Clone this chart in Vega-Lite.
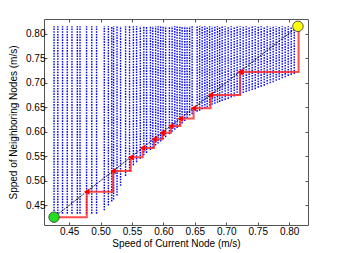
{
  "$schema": "https://vega.github.io/schema/vega-lite/v6.json",
  "width": 264,
  "height": 206,
  "autosize": "none",
  "padding": {"left": 44, "top": 19, "right": 33, "bottom": 28},
  "config": {
    "view": {"stroke": "#555555", "strokeWidth": 1},
    "axis": {
      "labelFont": "Liberation Sans",
      "titleFont": "Liberation Sans",
      "labelFontSize": 10,
      "titleFontSize": 10,
      "titleFontWeight": "normal",
      "labelColor": "#000000",
      "titleColor": "#000000",
      "domain": false,
      "grid": false,
      "tickColor": "#555555",
      "tickSize": -3,
      "labelFlush": false,
      "labelOverlap": false
    }
  },
  "datasets": {
    "cols": [
      {"x": 0.426, "y0": 0.433, "y1": 0.815},
      {"x": 0.432, "y0": 0.433, "y1": 0.815},
      {"x": 0.4395, "y0": 0.433, "y1": 0.815},
      {"x": 0.447, "y0": 0.433, "y1": 0.815},
      {"x": 0.4545, "y0": 0.433, "y1": 0.815},
      {"x": 0.463, "y0": 0.433, "y1": 0.815},
      {"x": 0.4673, "y0": 0.433, "y1": 0.815},
      {"x": 0.4777, "y0": 0.433, "y1": 0.815},
      {"x": 0.486, "y0": 0.433, "y1": 0.815},
      {"x": 0.4936, "y0": 0.433, "y1": 0.815},
      {"x": 0.5059, "y0": 0.44, "y1": 0.815},
      {"x": 0.5124, "y0": 0.45, "y1": 0.815},
      {"x": 0.5178, "y0": 0.458, "y1": 0.815},
      {"x": 0.5207, "y0": 0.462, "y1": 0.815},
      {"x": 0.5262, "y0": 0.47, "y1": 0.815},
      {"x": 0.5318, "y0": 0.49, "y1": 0.815},
      {"x": 0.5398, "y0": 0.51, "y1": 0.815},
      {"x": 0.5461, "y0": 0.52, "y1": 0.815},
      {"x": 0.5522, "y0": 0.532, "y1": 0.815},
      {"x": 0.5573, "y0": 0.538, "y1": 0.815},
      {"x": 0.5632, "y0": 0.545, "y1": 0.815},
      {"x": 0.5688, "y0": 0.552, "y1": 0.815},
      {"x": 0.5732, "y0": 0.557, "y1": 0.815},
      {"x": 0.5793, "y0": 0.563, "y1": 0.815},
      {"x": 0.5831, "y0": 0.567, "y1": 0.815},
      {"x": 0.5876, "y0": 0.572, "y1": 0.815},
      {"x": 0.5915, "y0": 0.576, "y1": 0.815},
      {"x": 0.5955, "y0": 0.58, "y1": 0.815},
      {"x": 0.5995, "y0": 0.585, "y1": 0.815},
      {"x": 0.6035, "y0": 0.589, "y1": 0.815},
      {"x": 0.6095, "y0": 0.595, "y1": 0.815},
      {"x": 0.6138, "y0": 0.6, "y1": 0.815},
      {"x": 0.6181, "y0": 0.604, "y1": 0.815},
      {"x": 0.6218, "y0": 0.608, "y1": 0.815},
      {"x": 0.6261, "y0": 0.613, "y1": 0.815},
      {"x": 0.6297, "y0": 0.617, "y1": 0.815},
      {"x": 0.634, "y0": 0.622, "y1": 0.815},
      {"x": 0.6377, "y0": 0.628, "y1": 0.815},
      {"x": 0.6417, "y0": 0.633, "y1": 0.815},
      {"x": 0.6457, "y0": 0.636, "y1": 0.815},
      {"x": 0.6536, "y0": 0.641, "y1": 0.815},
      {"x": 0.6576, "y0": 0.643, "y1": 0.815},
      {"x": 0.6616, "y0": 0.646, "y1": 0.815},
      {"x": 0.6659, "y0": 0.648, "y1": 0.815},
      {"x": 0.6696, "y0": 0.65, "y1": 0.815},
      {"x": 0.6735, "y0": 0.653, "y1": 0.815},
      {"x": 0.6775, "y0": 0.655, "y1": 0.815},
      {"x": 0.6818, "y0": 0.657, "y1": 0.815},
      {"x": 0.686, "y0": 0.659, "y1": 0.815},
      {"x": 0.6895, "y0": 0.661, "y1": 0.815},
      {"x": 0.6934, "y0": 0.663, "y1": 0.815},
      {"x": 0.6982, "y0": 0.665, "y1": 0.815},
      {"x": 0.703, "y0": 0.667, "y1": 0.815},
      {"x": 0.7078, "y0": 0.67, "y1": 0.815},
      {"x": 0.7126, "y0": 0.672, "y1": 0.815},
      {"x": 0.7173, "y0": 0.674, "y1": 0.815},
      {"x": 0.7221, "y0": 0.676, "y1": 0.815},
      {"x": 0.7269, "y0": 0.679, "y1": 0.815},
      {"x": 0.7317, "y0": 0.681, "y1": 0.815},
      {"x": 0.7364, "y0": 0.683, "y1": 0.815},
      {"x": 0.7412, "y0": 0.685, "y1": 0.815},
      {"x": 0.746, "y0": 0.687, "y1": 0.815},
      {"x": 0.7508, "y0": 0.69, "y1": 0.815},
      {"x": 0.7555, "y0": 0.692, "y1": 0.815},
      {"x": 0.7603, "y0": 0.694, "y1": 0.815},
      {"x": 0.7651, "y0": 0.697, "y1": 0.815},
      {"x": 0.7699, "y0": 0.699, "y1": 0.815},
      {"x": 0.7746, "y0": 0.701, "y1": 0.815},
      {"x": 0.7794, "y0": 0.704, "y1": 0.815},
      {"x": 0.7842, "y0": 0.706, "y1": 0.815},
      {"x": 0.789, "y0": 0.709, "y1": 0.815},
      {"x": 0.7937, "y0": 0.711, "y1": 0.815},
      {"x": 0.7985, "y0": 0.714, "y1": 0.815},
      {"x": 0.8033, "y0": 0.716, "y1": 0.815},
      {"x": 0.8081, "y0": 0.718, "y1": 0.815}
    ],
    "diag": [
      {"x": 0.426, "y": 0.426},
      {"x": 0.814, "y": 0.815}
    ],
    "stairs": [
      {"step": 1, "x": 0.426, "y": 0.426},
      {"step": 2, "x": 0.478, "y": 0.426},
      {"step": 3, "x": 0.478, "y": 0.478},
      {"step": 4, "x": 0.52, "y": 0.478},
      {"step": 5, "x": 0.52, "y": 0.52},
      {"step": 6, "x": 0.548, "y": 0.52},
      {"step": 7, "x": 0.548, "y": 0.548},
      {"step": 8, "x": 0.567, "y": 0.548},
      {"step": 9, "x": 0.567, "y": 0.567},
      {"step": 10, "x": 0.585, "y": 0.567},
      {"step": 11, "x": 0.585, "y": 0.585},
      {"step": 12, "x": 0.598, "y": 0.585},
      {"step": 13, "x": 0.598, "y": 0.598},
      {"step": 14, "x": 0.612, "y": 0.598},
      {"step": 15, "x": 0.612, "y": 0.612},
      {"step": 16, "x": 0.627, "y": 0.612},
      {"step": 17, "x": 0.627, "y": 0.627},
      {"step": 18, "x": 0.648, "y": 0.627},
      {"step": 19, "x": 0.648, "y": 0.648},
      {"step": 20, "x": 0.675, "y": 0.648},
      {"step": 21, "x": 0.675, "y": 0.675},
      {"step": 22, "x": 0.722, "y": 0.675},
      {"step": 23, "x": 0.722, "y": 0.722},
      {"step": 24, "x": 0.815, "y": 0.722},
      {"step": 25, "x": 0.815, "y": 0.815}
    ],
    "markers": [
      {"x": 0.478, "y": 0.478},
      {"x": 0.52, "y": 0.52},
      {"x": 0.548, "y": 0.548},
      {"x": 0.567, "y": 0.567},
      {"x": 0.585, "y": 0.585},
      {"x": 0.598, "y": 0.598},
      {"x": 0.612, "y": 0.612},
      {"x": 0.627, "y": 0.627},
      {"x": 0.648, "y": 0.648},
      {"x": 0.675, "y": 0.675},
      {"x": 0.722, "y": 0.722}
    ],
    "ends": [
      {"role": "start", "x": 0.426, "y": 0.426},
      {"role": "end", "x": 0.814, "y": 0.815}
    ]
  },
  "layer": [
    {
      "data": {"name": "cols"},
      "mark": {"type": "rule", "color": "#0000ff", "strokeWidth": 1.4, "strokeDash": [1.6, 1.1], "opacity": 1},
      "encoding": {
        "x": {"field": "x", "type": "quantitative",
              "scale": {"domain": [0.41, 0.83], "nice": false, "zero": false},
              "axis": {"orient": "bottom", "values": [0.45, 0.5, 0.55, 0.6, 0.65, 0.7, 0.75, 0.8], "title": "Speed of Current Node (m/s)", "labelPadding": 4, "titlePadding": 2}},
        "y": {"field": "y0", "type": "quantitative",
              "scale": {"domain": [0.41, 0.83], "nice": false, "zero": false},
              "axis": {"orient": "left", "values": [0.45, 0.5, 0.55, 0.6, 0.65, 0.7, 0.75, 0.8], "title": "Spped of Neighboring Nodes (m/s)", "labelPadding": 2, "titlePadding": 7}},
        "y2": {"field": "y1"}
      }
    },
    {
      "data": {"name": "diag"},
      "mark": {"type": "line", "color": "#000000", "strokeWidth": 0.9, "strokeDash": [2, 1]},
      "encoding": {
        "x": {"field": "x", "type": "quantitative",
              "axis": {"orient": "top", "values": [0.45, 0.5, 0.55, 0.6, 0.65, 0.7, 0.75, 0.8], "labels": false, "title": null}},
        "y": {"field": "y", "type": "quantitative",
              "axis": {"orient": "right", "values": [0.45, 0.5, 0.55, 0.6, 0.65, 0.7, 0.75, 0.8], "labels": false, "title": null}}
      }
    },
    {
      "data": {"name": "stairs"},
      "mark": {"type": "line", "color": "#ff2020", "strokeWidth": 2, "opacity": 0.8},
      "encoding": {
        "x": {"field": "x", "type": "quantitative", "axis": null},
        "y": {"field": "y", "type": "quantitative", "axis": null},
        "order": {"field": "step", "type": "quantitative"}
      }
    },
    {
      "data": {"name": "markers"},
      "mark": {"type": "point", "shape": "triangle-left", "filled": true, "color": "#ff0000", "size": 40, "opacity": 1},
      "encoding": {
        "x": {"field": "x", "type": "quantitative", "axis": null},
        "y": {"field": "y", "type": "quantitative", "axis": null}
      }
    },
    {
      "data": {"name": "ends"},
      "mark": {"type": "point", "filled": true, "size": 110, "stroke": "#333333", "strokeWidth": 0.8, "opacity": 1},
      "encoding": {
        "x": {"field": "x", "type": "quantitative", "axis": null},
        "y": {"field": "y", "type": "quantitative", "axis": null},
        "fill": {"field": "role", "type": "nominal", "scale": {"domain": ["start", "end"], "range": ["#22dd22", "#ffff00"]}, "legend": null}
      }
    }
  ],
  "resolve": {"axis": {"x": "independent", "y": "independent"}}
}
